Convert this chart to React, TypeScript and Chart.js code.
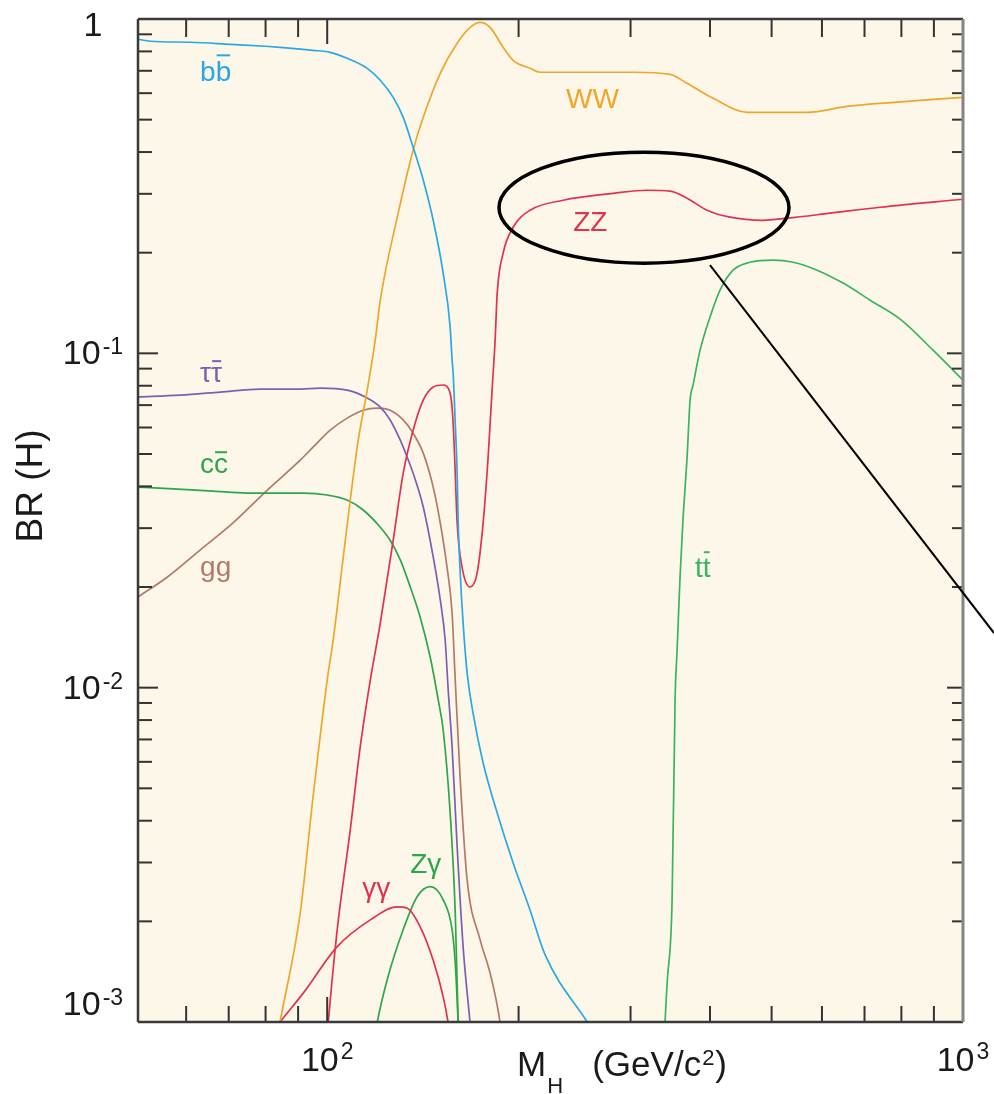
import React, { useEffect, useRef } from "react";
import { Chart, registerables } from "chart.js";
Chart.register(...registerables);

const FONT = '"Liberation Sans", Arial, Helvetica, sans-serif';

// ---- data: Higgs mass M_H (GeV/c^2) vs branching ratio BR(H) ----
const bbMass = [50.4, 52.7, 60.9, 70.4, 80, 84.3, 95, 101.1, 107.5, 115.6, 121.2, 127, 131.7, 136.5, 141.6, 146.8, 152.2, 156.1, 157.2, 157.8, 159.0, 160.1, 160.7, 161.9, 163.6, 166.0, 169.6, 175.9, 185.1, 196.1, 208.5, 220.1, 256.4, 270];
const bbBR = [0.870, 0.858, 0.852, 0.840, 0.829, 0.823, 0.806, 0.795, 0.763, 0.712, 0.656, 0.583, 0.508, 0.4135, 0.330, 0.250, 0.1737, 0.1198, 0.0954, 0.0872, 0.0618, 0.0438, 0.0311, 0.0220, 0.0156, 0.01106, 0.00839, 0.00595, 0.00422, 0.00299, 0.00216, 0.00159, 0.001, 0.00086];

const wwMass = [82.8, 84.3, 90.7, 95.0, 100, 102.2, 106.0, 108.7, 111.9, 115.6, 119.0, 121.2, 128.9, 136.5, 141.6, 150.6, 160.1, 167.8, 174.0, 180.4, 189.1, 196.1, 208.5, 216.2, 250, 302.8, 346.2, 368.1, 404.5, 457.6, 568.5, 657, 787.5, 1000];
const wwBR = [0.00083, 0.001, 0.00212, 0.00471, 0.01054, 0.01389, 0.0246, 0.0364, 0.0550, 0.0776, 0.1095, 0.1442, 0.2554, 0.405, 0.508, 0.688, 0.846, 0.944, 0.977, 0.944, 0.823, 0.752, 0.712, 0.693, 0.693, 0.693, 0.683, 0.642, 0.579, 0.526, 0.526, 0.548, 0.564, 0.583];

const zzMass = [99.3, 100.4, 103.7, 108.7, 112.7, 116.9, 121.2, 127.0, 131.7, 136.5, 141.6, 146.8, 152.2, 156.1, 157.8, 159.0, 160.1, 163.0, 167.8, 172.1, 175.9, 179.1, 181.7, 183.7, 185.1, 189.1, 196.1, 208.5, 235.0, 281.7, 318.6, 346.2, 368.1, 395.8, 430.1, 484.7, 528.8, 618, 740.5, 1000];
const zzBR = [0.00077, 0.001, 0.00189, 0.00375, 0.00665, 0.01054, 0.0156, 0.0276, 0.0438, 0.0589, 0.0725, 0.0793, 0.0804, 0.0760, 0.0618, 0.0438, 0.0311, 0.0229, 0.0200, 0.0220, 0.0311, 0.0489, 0.0776, 0.1095, 0.1514, 0.1993, 0.2383, 0.268, 0.287, 0.301, 0.3075, 0.3055, 0.291, 0.268, 0.2554, 0.250, 0.2536, 0.2625, 0.2735, 0.289];

const tauMass = [50.4, 58.7, 67.9, 78.5, 90.7, 97.5, 107.5, 115.6, 121.2, 125.6, 130.3, 133.6, 136.5, 141.6, 146.8, 150.6, 153.3, 155.0, 157.2, 160.1, 163.6, 167.8, 169];
const tauBR = [0.0740, 0.0750, 0.0766, 0.0782, 0.0782, 0.0787, 0.0776, 0.0735, 0.0690, 0.0632, 0.0550, 0.0489, 0.0438, 0.0347, 0.0246, 0.0183, 0.01389, 0.00984, 0.00665, 0.00334, 0.00168, 0.00099, 0.00085];

const ccMass = [50.4, 57.3, 66.2, 74.8, 84.3, 91.7, 100, 107.5, 113.9, 121.2, 125.6, 130.3, 135.1, 140.0, 145.2, 149.5, 152.2, 156.1, 159.0, 160.7, 161.3];
const ccBR = [0.0398, 0.0393, 0.0387, 0.0382, 0.0382, 0.0382, 0.0377, 0.0364, 0.0340, 0.0302, 0.0276, 0.0241, 0.0200, 0.01627, 0.01235, 0.00919, 0.00747, 0.00422, 0.00212, 0.00099, 0.00077];

const ggMass = [50.4, 56.0, 63.1, 71.1, 80.5, 90.7, 95.0, 101.1, 107.5, 113.9, 119.9, 125.6, 131.7, 136.5, 141.6, 146.8, 150.6, 154.3, 157.2, 159.0, 161.9, 166.0, 174.0, 180.4, 187.1, 189];
const ggBR = [0.01867, 0.0214, 0.0258, 0.0311, 0.0390, 0.0479, 0.0524, 0.0589, 0.0640, 0.0676, 0.0686, 0.0676, 0.0632, 0.0577, 0.0503, 0.0398, 0.0311, 0.0230, 0.0167, 0.01054, 0.00530, 0.00266, 0.00176, 0.00140, 0.00099, 0.00083];

const aaMass = [80.5, 84.3, 91.7, 103.7, 116.9, 128.9, 133.6, 140.0, 146.8, 152.2, 155.0, 156];
const aaBR = [0.00089, 0.001, 0.00122, 0.00168, 0.00202, 0.00221, 0.00219, 0.00193, 0.00153, 0.00119, 0.00099, 0.00089];

const zaMass = [118.7, 119.9, 124.3, 131.7, 138.5, 145.2, 152.2, 157.2, 159.0, 160.7, 161.2];
const zaBR = [0.00089, 0.001, 0.00134, 0.00189, 0.00237, 0.00254, 0.00232, 0.00189, 0.00150, 0.00099, 0.00085];

const ttMass = [338.8, 340.0, 342.5, 348.7, 352.5, 355.1, 359.0, 362.9, 368.1, 372.2, 376.2, 385.9, 400, 414.8, 434.8, 462.6, 502.9, 540.3, 589.5, 647.6, 714.3, 800, 897.1, 1000];
const ttBR = [0.00083, 0.001, 0.00131, 0.00232, 0.00919, 0.01296, 0.0217, 0.0323, 0.0486, 0.0725, 0.0803, 0.1022, 0.1283, 0.1545, 0.1773, 0.1873, 0.190, 0.1873, 0.1773, 0.1622, 0.1442, 0.1257, 0.1022, 0.0832];

// ---- axes ----
const X_MIN = 50.4;
const X_MAX = 1000;
const Y_MIN = 0.001;
const Y_MAX = 1;
const xMajorTicks = [100, 1000];
const xMinorTicks = [60, 70, 80, 90, 200, 300, 400, 500, 600, 700, 800, 900];
const xTickLabels = ["10^2", "10^3"];
const yMajorTicks = [0.001, 0.01, 0.1, 1];
const yMinorTicks = [0.002, 0.003, 0.004, 0.005, 0.006, 0.007, 0.008, 0.009, 0.02, 0.03, 0.04, 0.05, 0.06, 0.07, 0.08, 0.09, 0.2, 0.3, 0.4, 0.5, 0.6, 0.7, 0.8, 0.9];
const yTickLabels = ["10^-3", "10^-2", "10^-1", "1"];

// ---- colours ----
const BLUE = "#2aa8e4";
const ORANGE = "#f0a62a";
const RED = "#e2324f";
const PURPLE = "#7a60b2";
const GREEN = "#2ea64a";
const BROWN = "#b27a68";
const GREEN2 = "#3ab45e";
const BG = "#fdf7ea";

const series = [
  { name: "bb", M: bbMass, BR: bbBR, color: BLUE },
  { name: "WW", M: wwMass, BR: wwBR, color: ORANGE },
  { name: "ZZ", M: zzMass, BR: zzBR, color: RED },
  { name: "ττ", M: tauMass, BR: tauBR, color: PURPLE },
  { name: "cc", M: ccMass, BR: ccBR, color: GREEN },
  { name: "gg", M: ggMass, BR: ggBR, color: BROWN },
  { name: "γγ", M: aaMass, BR: aaBR, color: RED },
  { name: "Zγ", M: zaMass, BR: zaBR, color: GREEN },
  { name: "tt", M: ttMass, BR: ttBR, color: GREEN2 },
];

// curve labels (anchored in data coordinates: left edge, baseline); bar = index of overlined char
const curveLabels = [
  { text: "bb", bar: 1, M: 63.1, BR: 0.651, color: BLUE },
  { text: "WW", bar: -1, M: 237.5, BR: 0.541, color: ORANGE },
  { text: "ZZ", bar: -1, M: 243.7, BR: 0.232, color: RED },
  { text: "ττ", bar: 1, M: 63.1, BR: 0.082, color: PURPLE },
  { text: "cc", bar: 1, M: 63.1, BR: 0.0438, color: GREEN },
  { text: "gg", bar: -1, M: 63.1, BR: 0.0216, color: BROWN },
  { text: "γγ", bar: -1, M: 113.5, BR: 0.00237, color: RED },
  { text: "Zγ", bar: -1, M: 135.1, BR: 0.00279, color: GREEN },
  { text: "tt", bar: 1, M: 378.9, BR: 0.0214, color: GREEN2 },
];

// annotation: ellipse around ZZ plateau + pointer line (data coordinates)
const ellipseBox = { M0: 186.3, M1: 532.5, BR0: 0.186, BR1: 0.3995 };
const pointer = { M0: 400, BR0: 0.1835, M1: 1119, BR1: 0.01457 };

function drawPower(ctx: CanvasRenderingContext2D, label: string, x: number, y: number, size: number, supSize: number, rise: number) {
  const parts = label.split("^");
  const base = parts[0];
  const exp = parts[1];
  ctx.font = `${size}px ${FONT}`;
  const wb = ctx.measureText(base).width;
  let we = 0;
  if (exp) {
    ctx.font = `${supSize}px ${FONT}`;
    we = ctx.measureText(exp).width + 2;
  }
  const start = x - (wb + we) / 2;
  ctx.textAlign = "left";
  ctx.textBaseline = "alphabetic";
  ctx.font = `${size}px ${FONT}`;
  ctx.fillText(base, start, y);
  if (exp) {
    ctx.font = `${supSize}px ${FONT}`;
    ctx.fillText(exp, start + wb + 2, y - rise);
  }
}

const framePlugin = {
  id: "framePlugin",
  beforeDatasetsDraw(chart: any) {
    const { ctx, chartArea: a } = chart;
    ctx.save();
    ctx.fillStyle = BG;
    ctx.fillRect(a.left, a.top, a.right - a.left, a.bottom - a.top);
    ctx.restore();
  },
  afterDatasetsDraw(chart: any) {
    const { ctx, chartArea: a } = chart;
    const xs = chart.scales.x;
    const ys = chart.scales.y;
    ctx.save();
    ctx.strokeStyle = "#333";
    ctx.lineWidth = 2;
    const seg = (x0: number, y0: number, x1: number, y1: number) => {
      ctx.beginPath();
      ctx.moveTo(x0, y0);
      ctx.lineTo(x1, y1);
      ctx.stroke();
    };
    xMinorTicks.forEach((v) => {
      const p = xs.getPixelForValue(v);
      seg(p, a.bottom, p, a.bottom - 16);
      seg(p, a.top, p, a.top + 18);
    });
    xMajorTicks.forEach((v) => {
      const p = xs.getPixelForValue(v);
      seg(p, a.bottom, p, a.bottom - 25);
      seg(p, a.top, p, a.top + 25);
    });
    yMinorTicks.forEach((v) => {
      const p = ys.getPixelForValue(v);
      seg(a.left, p, a.left + 14, p);
      seg(a.right, p, a.right - 11, p);
    });
    yMajorTicks.forEach((v) => {
      const p = ys.getPixelForValue(v);
      seg(a.left, p, a.left + 20, p);
      seg(a.right, p, a.right - 16, p);
    });
    // frame
    ctx.lineWidth = 2.5;
    ctx.strokeStyle = "#3a3a3a";
    seg(a.left, a.top, a.right, a.top);
    seg(a.left, a.top, a.left, a.bottom);
    seg(a.left, a.bottom, a.right, a.bottom);
    ctx.strokeStyle = "#858585";
    ctx.lineWidth = 3;
    seg(a.right, a.top, a.right, a.bottom);
    ctx.restore();
  },
  afterDraw(chart: any) {
    const { ctx, chartArea: a } = chart;
    const xs = chart.scales.x;
    const ys = chart.scales.y;
    ctx.save();
    ctx.fillStyle = "#1a1a1a";
    // y tick labels
    yMajorTicks.forEach((v, i) => {
      const p = ys.getPixelForValue(v);
      let base = p + 11;
      base = Math.min(base, a.bottom - 7);
      base = Math.max(base, a.top + 17);
      drawPower(ctx, yTickLabels[i], 93, base, 34, 23, 10);
    });
    // x tick labels
    xMajorTicks.forEach((v, i) => {
      const p = xs.getPixelForValue(v);
      drawPower(ctx, xTickLabels[i], p, a.bottom + 49, 34, 23, 12);
    });
    // x axis title: M_H  (GeV/c^2)
    {
      let x = 517;
      const y = a.bottom + 54;
      ctx.textAlign = "left";
      ctx.textBaseline = "alphabetic";
      ctx.font = `35px ${FONT}`;
      ctx.fillText("M", x, y);
      x += ctx.measureText("M").width + 1;
      ctx.font = `22px ${FONT}`;
      ctx.fillText("H", x, y + 17);
      x += ctx.measureText("H").width;
      ctx.font = `35px ${FONT}`;
      const t = "   (GeV/c";
      ctx.fillText(t, x, y);
      x += ctx.measureText(t).width + 1;
      ctx.font = `22px ${FONT}`;
      ctx.fillText("2", x, y - 11);
      x += ctx.measureText("2").width + 1;
      ctx.font = `35px ${FONT}`;
      ctx.fillText(")", x, y);
    }
    // y axis title
    ctx.save();
    ctx.translate(42, 486);
    ctx.rotate(-Math.PI / 2);
    ctx.font = `37px ${FONT}`;
    ctx.textAlign = "center";
    ctx.textBaseline = "alphabetic";
    ctx.fillText("BR (H)", 0, 0);
    ctx.restore();

    // curve labels
    curveLabels.forEach((l) => {
      const x = xs.getPixelForValue(l.M);
      const y = ys.getPixelForValue(l.BR);
      ctx.font = `28px ${FONT}`;
      ctx.fillStyle = l.color;
      ctx.textAlign = "left";
      ctx.textBaseline = "alphabetic";
      ctx.fillText(l.text, x, y);
      if (l.bar >= 0) {
        const pre = ctx.measureText(l.text.slice(0, l.bar)).width;
        const ch = l.text[l.bar];
        const m = ctx.measureText(ch);
        const yb = y - m.actualBoundingBoxAscent - 6;
        ctx.strokeStyle = l.color;
        ctx.lineWidth = 2;
        ctx.beginPath();
        ctx.moveTo(x + pre + 1, yb);
        ctx.lineTo(x + pre + m.width - 1, yb);
        ctx.stroke();
      }
    });

    // ellipse annotation
    const ex0 = xs.getPixelForValue(ellipseBox.M0);
    const ex1 = xs.getPixelForValue(ellipseBox.M1);
    const ey0 = ys.getPixelForValue(ellipseBox.BR1);
    const ey1 = ys.getPixelForValue(ellipseBox.BR0);
    ctx.strokeStyle = "#000";
    ctx.lineWidth = 3.5;
    ctx.beginPath();
    ctx.ellipse((ex0 + ex1) / 2, (ey0 + ey1) / 2, (ex1 - ex0) / 2, (ey1 - ey0) / 2, 0, 0, Math.PI * 2);
    ctx.stroke();
    // pointer line
    ctx.lineWidth = 2;
    ctx.beginPath();
    ctx.moveTo(xs.getPixelForValue(pointer.M0), ys.getPixelForValue(pointer.BR0));
    ctx.lineTo(xs.getPixelForValue(pointer.M1), ys.getPixelForValue(pointer.BR1));
    ctx.stroke();
    ctx.restore();
  },
};

export default function App() {
  const ref = useRef<HTMLCanvasElement>(null);
  useEffect(() => {
    const canvas = ref.current;
    if (!canvas) return;
    const chart = new Chart(canvas, {
      type: "scatter",
      data: {
        datasets: series.map((s) => ({
          label: s.name,
          data: s.M.map((m, i) => ({ x: m, y: s.BR[i] })),
          showLine: true,
          borderColor: s.color,
          backgroundColor: s.color,
          borderWidth: 1.7,
          pointRadius: 0,
          pointHoverRadius: 0,
          cubicInterpolationMode: "monotone" as const,
          fill: false,
        })),
      },
      options: {
        animation: false,
        responsive: false,
        devicePixelRatio: 1,
        events: [],
        layout: { padding: { left: 138, right: 31, top: 19, bottom: 72 } },
        plugins: { legend: { display: false }, tooltip: { enabled: false } },
        scales: {
          x: { type: "logarithmic", min: X_MIN, max: X_MAX, display: false },
          y: { type: "logarithmic", min: Y_MIN, max: Y_MAX, display: false },
        },
      },
      plugins: [framePlugin],
    });
    return () => chart.destroy();
  }, []);
  return (
    <div style={{ position: "fixed", left: 0, top: 0, width: 994, height: 1094, background: "#fff" }}>
      <canvas ref={ref} width={994} height={1094} style={{ display: "block", width: 994, height: 1094 }} />
    </div>
  );
}
